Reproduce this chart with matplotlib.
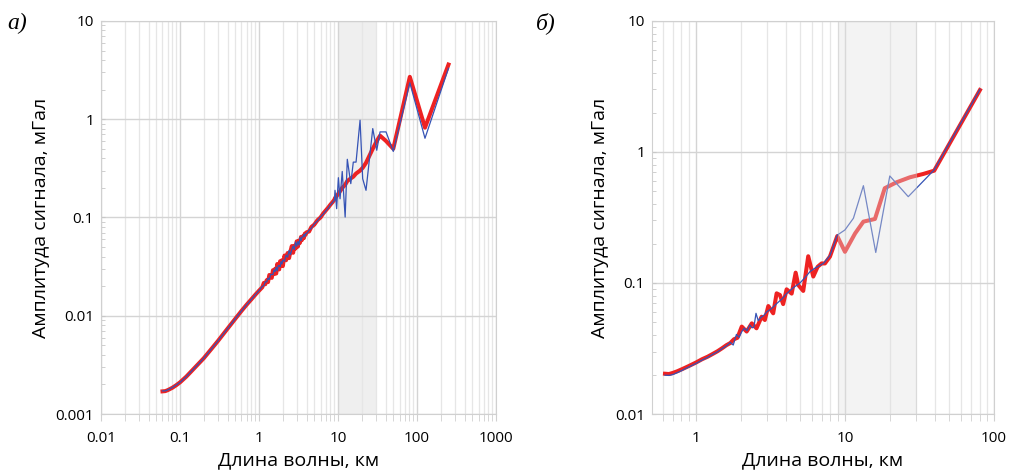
import matplotlib
matplotlib.use("Agg")
import matplotlib.pyplot as plt
import matplotlib.ticker as ticker

plt.rcParams["font.family"] = ["Open Sans", "DejaVu Sans"]

# panel a) - wavelength, km and signal amplitude, mGal
wl_a = [0.06, 0.065, 0.07, 0.08, 0.09, 0.1, 0.12, 0.15, 0.2, 0.25, 0.3, 0.4,
        0.5, 0.6, 0.7, 0.8, 0.9, 1.0,
        1.1, 1.15, 1.2, 1.25, 1.3, 1.35, 1.4, 1.45, 1.5, 1.55, 1.6, 1.65,
        1.7, 1.75, 1.8, 1.85, 1.9, 1.95, 2.0, 2.1, 2.2, 2.3, 2.4, 2.5, 2.6,
        2.7, 2.8, 2.9, 3.0, 3.1, 3.2, 3.3, 3.4, 3.5, 3.6, 3.7, 3.8, 3.9, 4.0,
        4.3, 4.6,
        5.0, 5.5, 6.0, 6.5, 7.0, 7.5, 8.0, 8.5, 9.0, 9.16, 9.6, 10.1, 10.6,
        11.3, 12.3, 13.1, 14.5, 15.6, 16.9, 19.0, 20.5, 22.6, 27.5, 30.9, 34.0,
        40.5, 50.0, 81.0, 126.0, 250.0]
amp_a_red = [0.00170, 0.00171, 0.00175, 0.00185, 0.00197, 0.0021, 0.0024,
             0.0029, 0.0037, 0.0046, 0.0055, 0.0074, 0.0093, 0.0112, 0.013,
             0.0147, 0.0164, 0.0180,
             0.0195, 0.0216, 0.0209, 0.0230, 0.0220, 0.0260, 0.0250, 0.0243,
             0.0291, 0.0265, 0.0301, 0.0269, 0.0336, 0.0309, 0.0296, 0.0359,
             0.0325, 0.0367, 0.0320, 0.0410, 0.0367, 0.0435, 0.0386, 0.0453,
             0.0512, 0.0437, 0.0516, 0.0483, 0.0572, 0.0505, 0.0581, 0.0553,
             0.0634, 0.0591, 0.0645, 0.0618, 0.0686, 0.0670, 0.0707, 0.0720,
             0.0801,
             0.0845, 0.094, 0.100, 0.110, 0.118, 0.126, 0.135, 0.143,
             0.152, 0.158, 0.165, 0.175, 0.185, 0.20, 0.215, 0.235, 0.25, 0.26,
             0.28, 0.30, 0.32, 0.36, 0.50, 0.60, 0.68, 0.60, 0.50, 2.7, 0.82,
             3.6]
amp_a_blue = [0.00172, 0.00172, 0.00176, 0.00186, 0.00198, 0.0021, 0.0024,
              0.0029, 0.0037, 0.0046, 0.0055, 0.0074, 0.0093, 0.0112, 0.013,
              0.0147, 0.0164, 0.0180,
              0.0199, 0.0202, 0.0221, 0.0221, 0.0241, 0.0234, 0.0263, 0.0263,
              0.0262, 0.0293, 0.0281, 0.0312, 0.0288, 0.0324, 0.0324, 0.0316,
              0.0355, 0.0336, 0.0370, 0.0358, 0.0413, 0.0395, 0.0462, 0.0419,
              0.0471, 0.0512, 0.0472, 0.0563, 0.0510, 0.0569, 0.0525, 0.0627,
              0.0581, 0.0633, 0.0632, 0.0675, 0.0640, 0.0690, 0.0686, 0.0742,
              0.0777,
              0.0860, 0.0925, 0.1015, 0.1085, 0.1165, 0.1245, 0.134,
              0.142, 0.150, 0.189, 0.123, 0.254, 0.155, 0.294, 0.101, 0.391,
              0.221, 0.366, 0.366, 0.977, 0.248, 0.189, 0.803, 0.483, 0.743,
              0.743, 0.47, 2.35, 0.64, 3.3]

# panel b)
wl_b_red = [0.62, 0.66, 0.7, 0.75, 0.8, 0.85, 0.9, 1.0, 1.1, 1.2, 1.3, 1.4,
            1.5, 1.6, 1.7, 1.8, 1.9, 2.03, 2.19, 2.37, 2.55, 2.76, 2.9, 3.06,
            3.3, 3.48, 3.66, 3.85, 4.06, 4.39, 4.67, 4.86, 5.25, 5.67, 6.13,
            6.56, 6.97, 7.34, 7.93, 8.88, 10.0, 11.7, 13.3, 15.9, 18.5, 22.2,
            27.3, 33.6, 39.7, 80.5]
amp_b_red = [0.0203, 0.0202, 0.0206, 0.0212, 0.0219, 0.0226, 0.0233, 0.0247,
             0.0262, 0.0274, 0.0288, 0.0302, 0.0318, 0.0335, 0.0348, 0.0372,
             0.0382, 0.0465, 0.0426, 0.0492, 0.0451, 0.0553, 0.0522, 0.0667,
             0.0587, 0.0834, 0.081, 0.069, 0.0895, 0.083, 0.12, 0.0966, 0.087,
             0.16, 0.112, 0.133, 0.141, 0.141, 0.159, 0.228, 0.173, 0.239,
             0.294, 0.308, 0.529, 0.587, 0.641, 0.68, 0.72, 2.97]
wl_b_blue = [0.62, 0.66, 0.7, 0.75, 0.8, 0.85, 0.9, 1.0, 1.1, 1.2, 1.3, 1.4,
             1.5, 1.6, 1.7, 1.78, 1.87, 1.95, 2.03, 2.11, 2.2, 2.3, 2.38, 2.45,
             2.53, 2.62, 2.72, 2.85, 3.0, 3.2, 3.5, 3.8, 4.06, 4.5, 4.99, 5.4,
             5.82, 6.3, 7.16, 7.93, 8.88, 10.0, 11.4, 13.3, 16.1, 20.0, 26.6,
             39.7, 80.5]
amp_b_blue = [0.0198, 0.0197, 0.0200, 0.0207, 0.0214, 0.0222, 0.0229, 0.0243,
              0.0258, 0.0271, 0.0286, 0.0299, 0.0316, 0.0331, 0.0352, 0.0336,
              0.0405, 0.0385, 0.0425, 0.0452, 0.0432, 0.0478, 0.0455, 0.046,
              0.0587, 0.0515, 0.0545, 0.0565, 0.0605, 0.0635, 0.0700, 0.0760,
              0.083, 0.092, 0.100, 0.110, 0.122, 0.130, 0.141, 0.162, 0.232,
              0.254, 0.312, 0.553, 0.171, 0.656, 0.456, 0.73, 3.0]

band_a = (10, 30)
band_b = (9, 30)

RED = "#ee2222"
BLUE = "#3553b5"


def style_axis(ax, xlim, ylim):
    ax.set_xscale("log")
    ax.set_yscale("log")
    ax.set_xlim(*xlim)
    ax.set_ylim(*ylim)
    fmt = ticker.FuncFormatter(lambda v, _: f"{v:g}")
    ax.xaxis.set_major_formatter(fmt)
    ax.yaxis.set_major_formatter(fmt)
    ax.xaxis.set_minor_locator(ticker.LogLocator(base=10, subs=range(2, 10), numticks=20))
    ax.yaxis.set_minor_locator(ticker.LogLocator(base=10, subs=range(2, 10), numticks=20))
    ax.xaxis.set_minor_formatter(ticker.NullFormatter())
    ax.yaxis.set_minor_formatter(ticker.NullFormatter())
    ax.set_axisbelow(True)
    ax.grid(which="major", color="#d4d4d4", lw=1.0)
    ax.grid(which="minor", axis="x", color="#e6e6e6", lw=0.9)
    for sp in ax.spines.values():
        sp.set_color("#d0d0d0")
    ax.tick_params(axis="x", which="both", direction="out", length=5,
                   color="#d0d0d0", pad=7, labelsize=11)
    ax.tick_params(axis="y", which="both", direction="in", length=3,
                   color="#c8c8c8", pad=5, labelsize=11)
    ax.set_xlabel("Длина волны, км", fontsize=14, labelpad=4)
    ax.set_ylabel("Амплитуда сигнала, мГал", fontsize=14, labelpad=4)


fig = plt.figure(figsize=(10.13, 4.73), dpi=100)

ax1 = fig.add_axes([0.0997, 0.1247, 0.390, 0.831])
style_axis(ax1, (0.01, 1000), (0.001, 10))
ax1.axvspan(*band_a, color="#efefef", zorder=0.3, lw=0)
ax1.plot(wl_a, amp_a_red, color=RED, lw=2.9, zorder=3)
ax1.plot(wl_a, amp_a_blue, color=BLUE, lw=0.9, zorder=4)

ax2 = fig.add_axes([0.6436, 0.1247, 0.3376, 0.831])
style_axis(ax2, (0.507, 100), (0.01, 10))
ax2.plot(wl_b_red, amp_b_red, color=RED, lw=2.9, zorder=3)
ax2.plot(wl_b_blue, amp_b_blue, color=BLUE, lw=0.9, zorder=4)
# band drawn over the curves, semi-transparent
ax2.axvspan(*band_b, facecolor="#e0e0e0", alpha=0.38, zorder=5,
            edgecolor="#cccccc", lw=0.8)

fig.text(0.007, 0.951, "а)", family="Liberation Serif", style="italic",
         fontsize=17, va="center")
fig.text(0.529, 0.951, "б)", family="Liberation Serif", style="italic",
         fontsize=17, va="center")

plt.savefig("out.png", dpi=100)
